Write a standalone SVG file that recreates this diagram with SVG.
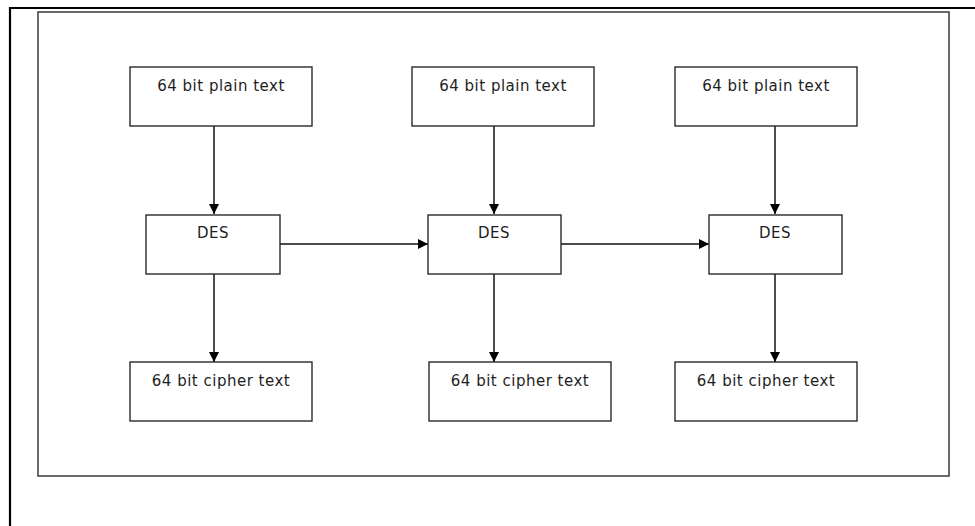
<svg xmlns="http://www.w3.org/2000/svg" width="975" height="526" viewBox="0 0 975 526">
<style>
.box{fill:#fff;stroke:#2a2a2a;stroke-width:1.4}
.lbl{font-family:"DejaVu Sans",sans-serif;font-size:15px;fill:#1e1e1e;text-anchor:middle;letter-spacing:0.5px}
.conn{stroke:#111;stroke-width:1.5;fill:none;marker-end:url(#ah)}
</style>
<defs>
<marker id="ah" markerUnits="userSpaceOnUse" markerWidth="11" markerHeight="10" refX="10" refY="5" orient="auto">
<path d="M0,0 L10,5 L0,10 Z" fill="#000"/>
</marker>
</defs>
<rect x="0" y="0" width="975" height="526" fill="#fff"/>
<g id="frame">
<path d="M10,526 L10,8 L975,8" fill="none" stroke="#000" stroke-width="2.2"/>
<rect x="38" y="12" width="911" height="464" fill="none" stroke="#3a3a3a" stroke-width="1.5"/>
</g>
<g id="connectors">
<line class="conn" x1="214" y1="126" x2="214" y2="214"/>
<line class="conn" x1="214" y1="274" x2="214" y2="362"/>
<line class="conn" x1="494" y1="126" x2="494" y2="214"/>
<line class="conn" x1="494" y1="274" x2="494" y2="362"/>
<line class="conn" x1="775" y1="126" x2="775" y2="214"/>
<line class="conn" x1="775" y1="274" x2="775" y2="362"/>
<line class="conn" x1="280" y1="244" x2="428" y2="244"/>
<line class="conn" x1="561" y1="244" x2="709" y2="244"/>
</g>
<g id="plain1"><rect class="box" x="130" y="67" width="182" height="59"/><text class="lbl" x="221" y="91">64 bit plain text</text></g>
<g id="plain2"><rect class="box" x="412" y="67" width="182" height="59"/><text class="lbl" x="503" y="91">64 bit plain text</text></g>
<g id="plain3"><rect class="box" x="675" y="67" width="182" height="59"/><text class="lbl" x="766" y="91">64 bit plain text</text></g>
<g id="des1"><rect class="box" x="146" y="215" width="134" height="59"/><text class="lbl" x="213" y="238">DES</text></g>
<g id="des2"><rect class="box" x="428" y="215" width="133" height="59"/><text class="lbl" x="494" y="238">DES</text></g>
<g id="des3"><rect class="box" x="709" y="215" width="133" height="59"/><text class="lbl" x="775" y="238">DES</text></g>
<g id="cipher1"><rect class="box" x="130" y="362" width="182" height="59"/><text class="lbl" x="221" y="386">64 bit cipher text</text></g>
<g id="cipher2"><rect class="box" x="429" y="362" width="182" height="59"/><text class="lbl" x="520" y="386">64 bit cipher text</text></g>
<g id="cipher3"><rect class="box" x="675" y="362" width="182" height="59"/><text class="lbl" x="766" y="386">64 bit cipher text</text></g>
</svg>
